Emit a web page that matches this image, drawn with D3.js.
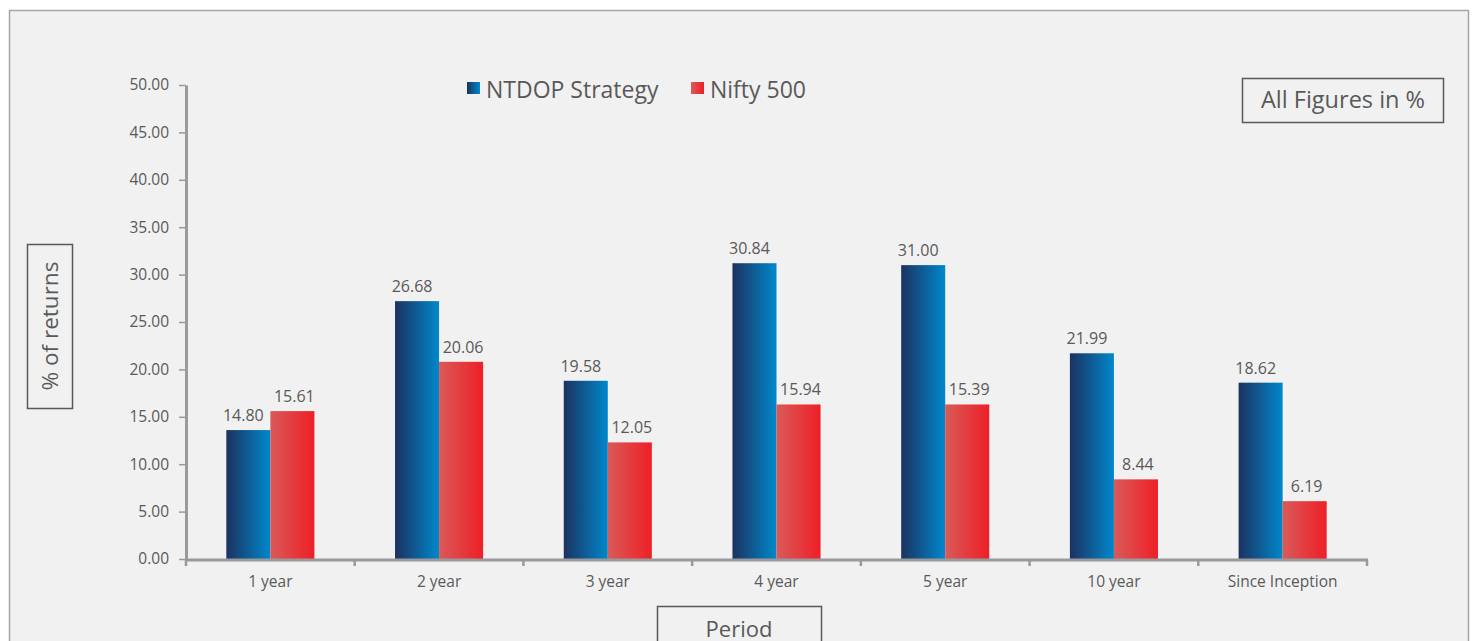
<!DOCTYPE html>
<html>
<head>
<meta charset="utf-8">
<script src="https://cdn.jsdelivr.net/npm/d3@7"></script>
<style>
  body { margin: 0; background: #fff; }
  text { font-family: "Open Sans", sans-serif; fill: #595959; }
</style>
</head>
<body>
<svg id="chart"></svg>
<script>
// data
const periods = ['1 year', '2 year', '3 year', '4 year', '5 year', '10 year', 'Since Inception'];
const seriesNames = ['NTDOP Strategy', 'Nifty 500'];
const ntdopValues = [13.6, 27.2, 18.8, 31.2, 31.0, 21.7, 18.6];
const niftyValues = [15.6, 20.8, 12.3, 16.3, 16.3, 8.4, 6.1];
const ntdopLabels = ['14.80', '26.68', '19.58', '30.84', '31.00', '21.99', '18.62'];
const niftyLabels = ['15.61', '20.06', '12.05', '15.94', '15.39', '8.44', '6.19'];
const yTicks = d3.range(0, 51, 5);

(function() {
  const dim = { w: 1474, h: 641 },
    $svg = d3.select('#chart').attr('width', dim.w).attr('height', dim.h);

  const defs = $svg.append('defs');
  const grads = [
    ['gradBlue', '#1c3260', '#0088cc'],
    ['gradRed', '#d95a58', '#ee1f27']
  ];
  grads.forEach((g) => {
    const lg = defs.append('linearGradient').attr('id', g[0])
      .attr('x1', '0%').attr('x2', '100%').attr('y1', '0%').attr('y2', '0%');
    lg.append('stop').attr('offset', '0%').attr('stop-color', g[1]);
    lg.append('stop').attr('offset', '100%').attr('stop-color', g[2]);
  });

  // outer frame
  $svg.append('rect')
    .attr('x', 9.5).attr('y', 10.5)
    .attr('width', 1459).attr('height', 640)
    .attr('fill', '#f1f1f1')
    .attr('stroke', '#a6a6a6')
    .attr('stroke-width', 1.5);

  const rows = periods.map((p, i) => ({
    period: p,
    vals: [ntdopValues[i], niftyValues[i]],
    labels: [ntdopLabels[i], niftyLabels[i]]
  }));

  const x0 = d3.scaleBand().domain(periods).range([186, 1367])
      .paddingInner(0.478).paddingOuter(0.239),
    x1 = d3.scaleBand().domain(seriesNames).range([0, x0.bandwidth()]),
    yScale = d3.scaleLinear().domain([0, 50]).range([559, 85]);

  // y axis
  const $yAxis = $svg.append('g')
    .attr('transform', 'translate(186, 0)')
    .call(d3.axisLeft(yScale).tickValues(yTicks).tickFormat(d3.format('.2f'))
      .tickSize(7).tickSizeOuter(0).tickPadding(10));
  $yAxis.select('.domain').attr('stroke', '#9a9a9e').attr('stroke-width', 3);
  $yAxis.selectAll('.tick line').attr('stroke', '#9a9a9e').attr('stroke-width', 1.5);
  $yAxis.selectAll('.tick text').attr('font-size', 15.5).style('fill', '#595959')
    .attr('font-family', '"Open Sans", sans-serif');

  // bars
  const groups = $svg.selectAll('.grp')
    .data(rows)
    .enter()
    .append('g')
    .attr('class', 'grp')
    .attr('transform', (d) => 'translate(' + x0(d.period) + ',0)');
  groups.selectAll('rect')
    .data((d) => d.vals.map((v, i) => ({ s: seriesNames[i], v: v, label: d.labels[i], i: i })))
    .enter()
    .append('rect')
    .attr('x', (d) => x1(d.s))
    .attr('width', x1.bandwidth())
    .attr('y', (d) => yScale(d.v))
    .attr('height', (d) => yScale(0) - yScale(d.v))
    .attr('fill', (d) => d.i == 0 ? 'url(#gradBlue)' : 'url(#gradRed)');
  groups.selectAll('text.val')
    .data((d) => d.vals.map((v, i) => ({ s: seriesNames[i], v: v, label: d.labels[i], i: i })))
    .enter()
    .append('text')
    .attr('class', 'val')
    .attr('x', (d) => x1(d.s) + x1.bandwidth() / 2 + (d.i == 0 ? -5 : 2))
    .attr('y', (d) => yScale(d.v) - 9)
    .attr('text-anchor', 'middle')
    .attr('font-size', 16)
    .text((d) => d.label);

  // x axis with ticks between categories
  const boundaries = periods.map((p) => x0(p) - x0.step() * x0.paddingInner() / 2)
    .concat([1367]);
  $svg.append('line')
    .attr('x1', 186).attr('x2', 1368)
    .attr('y1', 560).attr('y2', 560)
    .attr('stroke', '#9a9a9e').attr('stroke-width', 3);
  $svg.selectAll('.xtick')
    .data(boundaries)
    .enter()
    .append('line')
    .attr('class', 'xtick')
    .attr('x1', (d) => d).attr('x2', (d) => d)
    .attr('y1', 560).attr('y2', 566)
    .attr('stroke', '#9a9a9e').attr('stroke-width', 2.5);
  $svg.selectAll('.xlabel')
    .data(periods)
    .enter()
    .append('text')
    .attr('class', 'xlabel')
    .attr('x', (d) => x0(d) + x0.bandwidth() / 2)
    .attr('y', 587)
    .attr('text-anchor', 'middle')
    .attr('font-size', 15.5)
    .text((d) => d);

  // legend
  const legendItems = [
    [seriesNames[0], 'url(#gradBlue)', 467],
    [seriesNames[1], 'url(#gradRed)', 691]
  ];
  const $legend = $svg.append('g');
  $legend.selectAll('rect')
    .data(legendItems)
    .enter()
    .append('rect')
    .attr('x', (d) => d[2]).attr('y', 82)
    .attr('width', 13).attr('height', 12)
    .attr('fill', (d) => d[1]);
  $legend.selectAll('text')
    .data(legendItems)
    .enter()
    .append('text')
    .attr('x', (d) => d[2] + 19)
    .attr('y', 98)
    .attr('font-size', 23)
    .text((d) => d[0]);

  // boxed labels
  $svg.append('rect')
    .attr('x', 1242.5).attr('y', 78.5).attr('width', 201).attr('height', 44)
    .attr('fill', 'none').attr('stroke', '#595959').attr('stroke-width', 1.5);
  $svg.append('text')
    .attr('x', 1343).attr('y', 108)
    .attr('text-anchor', 'middle').attr('font-size', 23.5)
    .text('All Figures in %');

  $svg.append('rect')
    .attr('x', 27.5).attr('y', 244.5).attr('width', 45).attr('height', 164)
    .attr('fill', 'none').attr('stroke', '#595959').attr('stroke-width', 1.5);
  $svg.append('text')
    .attr('text-anchor', 'middle').attr('font-size', 22.5)
    .attr('transform', 'translate(58, 326) rotate(-90)')
    .text('% of returns');

  $svg.append('rect')
    .attr('x', 657.5).attr('y', 606.5).attr('width', 164).attr('height', 50)
    .attr('fill', 'none').attr('stroke', '#595959').attr('stroke-width', 1.5);
  $svg.append('text')
    .attr('x', 739).attr('y', 637)
    .attr('text-anchor', 'middle').attr('font-size', 22)
    .text('Period');
})();
</script>
</body>
</html>
